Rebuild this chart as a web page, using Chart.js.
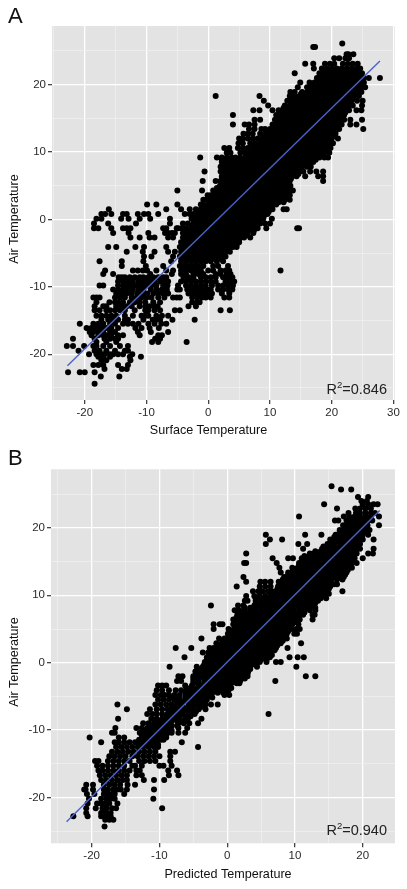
<!DOCTYPE html>
<html>
<head>
  <title>Air Temperature</title>
  <script src="https://cdn.jsdelivr.net/npm/chart.js"></script>
  <style>
    html, body { margin: 0; padding: 0; background: #fff; }
    body { width: 407px; height: 889px; position: relative; overflow: hidden; font-family: "Liberation Sans", Arial, sans-serif; color: #111; }
    canvas { position: absolute; left: 0; }
    .panel { position: absolute; left: 8px; font-size: 22px; line-height: 24px; }
    .r2 { position: absolute; right: 20px; font-size: 14.5px; line-height: 18px; color: #222; }
    .r2 sup { font-size: 9.5px; line-height: 0; }
    .xtitle, .ytitle { position: absolute; font-size: 12.6px; line-height: 15px; white-space: nowrap; }
    .xtitle { transform: translateX(-50%); }
    .ytitle { left: 14px; transform: translate(-50%, -50%) rotate(-90deg); }
  </style>
</head>
<body>

<canvas id="chartA" width="407" height="445" style="top:0"></canvas>
<canvas id="chartB" width="407" height="444" style="top:445px"></canvas>
<div class="panel" style="top:4px">A</div>
<div class="panel" style="top:446px">B</div>
<div class="r2" style="top:380px">R<sup>2</sup>=0.846</div>
<div class="r2" style="top:821px">R<sup>2</sup>=0.940</div>
<div class="xtitle" style="left:208.5px;top:423px">Surface Temperature</div>
<div class="xtitle" style="left:228px;top:866.5px">Predicted Temperature</div>
<div class="ytitle" style="top:219px">Air Temperature</div>
<div class="ytitle" style="top:662px">Air Temperature</div>

<script>
  // air temperature levels and the surface temperatures seen on each level (panel A)
  const airA = [26.1,25.6,24.5,23.9,23.1,22.4,21.7,21,20.3,19.6,18.9,18.3,17.6,16.9,16.2,15.5,14.8,14.1,13.4,12.7,12,11.3,10.6,9.9,9.2,8.5,7.8,7.1,6.4,5.7,5,4.3,3.6,2.9,2.2,1.5,0.8,0.1,-0.6,-1.3,-2,-2.7,-3.4,-4.1,-4.8,-5.5,-6.2,-6.9,-7.6,-8.1,-8.6,-9.2,-9.8,-10.4,-11,-11.6,-12.3,-12.9,-13.5,-14.3,-14.9,-15.5,-16.1,-16.7,-17.2,-17.7,-18.2,-18.8,-19.5,-20,-20.4,-20.9,-21.6,-22.2,-22.7,-23.3,-24.4];
  const surfaceA = [
    [21.7],
    [17,17.3],
    [22.4,23.5,22.7],
    [20.4,21.2,22.2,22.8],
    [15.7,17,18.9,19.7,20.4,21.8,22.6,23.4,24.2],
    [17.1,18.4,19.2,20,20.8,21.6,22.4,23.2,24,24.6],
    [14,18,18.8,19.6,20.4,21.2,22,22.8,23.6,24.4,24.9],
    [26,27.8,17.6,18.4,19.2,20,20.8,21.6,22.4,23.2,24,24.8,25.2],
    [14.9,16.4,17.2,18,18.8,19.6,20.4,21.2,22,22.8,23.6,24.4,25.2],
    [14.5,16,16.8,17.6,18.4,19.2,20,20.8,21.6,22.4,23.2,24,24.8,25.4],
    [13.3,14,15.2,16,16.8,17.6,18.4,19.2,20,20.8,21.6,22.4,23.2,24,24.8],
    [1.2,8.3,13.2,14,14.8,15.6,16.4,17.2,18,18.8,19.6,20.4,21.2,22,22.8,23.6,24.4],
    [9,12.8,13.6,14.4,15.2,16,16.8,17.6,18.4,19.2,20,20.8,21.6,22.4,23.2,24.1,25],
    [9.7,12.4,13.2,14,14.8,15.6,16.4,17.2,18,18.8,19.6,20.4,21.2,22,22.8,23.4,24.9],
    [7.3,8.3,10.4,11.4,12,12.8,13.6,14.4,15.2,16,16.8,17.6,18.4,19.2,20,20.8,21.6,22.4,22.8,24,24.8],
    [4,11,11.6,12.4,13.2,14,14.8,15.6,16.4,17.2,18,18.8,19.6,20.4,21.2,22],
    [7.5,8.4,10.8,11.6,12.4,13.2,14,14.8,15.6,16.4,17.2,18,18.8,19.6,20.4,21.2,22,23,24.9],
    [4,5.9,6.6,7.5,10.4,11.2,12,12.8,13.6,14.4,15.2,16,16.8,17.6,18.4,19.2,20,20.8,21.6,23,24],
    [6.6,7.5,8.6,9.2,10,10.8,11.6,12.4,13.2,14,14.8,15.6,16.4,17.2,18,18.8,19.6,20.4,21.2,25.1],
    [5.7,6.4,7.2,8.4,9.2,10,10.8,11.6,12.4,13.2,14,14.8,15.6,16.4,17.2,18,18.8,19.6,20.6],
    [5,5.6,6.4,7.2,8,8.8,9.6,10.4,11.2,12,12.8,13.6,14.4,15.2,16,16.8,17.6,18.4,19.2,20,21],
    [4.9,5.6,6.8,7.6,8.4,9.2,10,10.8,11.6,12.4,13.2,14,14.8,15.6,16.4,17.2,18,18.8,19.6,20.2],
    [2.6,3.4,4.8,5.6,6.4,7.2,8,8.8,9.6,10.4,11.2,12,12.8,13.6,14.4,15.2,16,16.8,17.6,18.4,19.2,19.8],
    [3,3.6,5.2,6,6.8,7.6,8.4,9.2,10,10.8,11.6,12.4,13.2,14,14.8,15.6,16.4,17.2,18,18.8,19.6],
    [-1.3,1.4,2.2,3,3.8,4.4,5.2,6,6.8,7.6,8.4,9.2,10,10.8,11.6,12.4,13.2,14,14.8,15.6,16.4,17.2,18,18.8,19.4],
    [2.2,2.8,3.6,4.4,5.2,6,6.8,7.6,8.4,9.2,10,10.8,11.6,12.4,13.2,14,14.8,15.6,16.4,17],
    [2,2.4,3.2,4,4.8,5.6,6.4,7.2,8,8.8,9.6,10.4,11.2,12,12.8,13.6,14.4,15.2,16,16.6],
    [-0.6,2,2.8,3.6,4.4,5.2,6,6.8,7.6,8.4,9.2,10,10.8,11.6,12.4,13.2,14,14.8,15.4,16.5,17.5,18.6],
    [2.2,2.8,3.2,4,4.8,5.6,6.4,7.2,8,8.8,9.6,10.4,11.2,12,12.8,13.6,14.3,15.7,17.8,18.6],
    [-0.9,1.2,2,2.8,3.6,4.4,5.2,6,6.8,7.6,8.4,9.2,10,10.8,11.6,12.4,13.2,18.6],
    [1.9,2.4,3.2,4,4.8,5.6,6.4,7.2,8,8.8,9.6,10.4,11.2,12,12.8,13.3],
    [-5,-1,0.8,1.2,2,2.8,3.6,4.4,5.2,6,6.8,7.6,8.4,9.2,10,10.8,11.6,12.4,13.2,13.7],
    [-0.1,0.4,1.2,2,2.8,3.6,4.4,5.2,6,6.8,7.6,8.4,9.2,10,10.8,11.6,12.4,13.2],
    [-0.8,-0.3,0.4,1.2,2,2.8,3.6,4.4,5.2,6,6.8,7.6,8.4,9.2,10,10.8,11.6,12.4,13.2],
    [-9.9,-8.4,-5,-1.2,-0.8,0,0.8,1.6,2.4,3.2,4,4.8,5.6,6.4,7.2,8,8.8,9.6,10.4,11],
    [-16.1,-6.8,-4.4,-3,-2,-1.2,-0.4,0.4,1.2,2,2.8,3.6,4.4,5.2,6,6.8,7.6,8.4,9.2,10,10.4,12.2,12.7],
    [-17.3,-16.7,-15.7,-13.8,-13.2,-11.4,-10.4,-9.7,-8.1,-3.8,-3,-2.4,-1.6,-0.8,0,0.8,1.6,2.4,3.2,4,4.8,5.6,6.4,7.2,8,8.8,9.6],
    [-18.1,-17.3,-14.1,-12.9,-11.1,-9.4,-6.2,-2.7,-2,-1.2,-0.4,0.4,1.2,2,2.8,3.6,4.4,5.2,6,6.8,7.6,8.4,8.9,10.3],
    [-18.5,-16.2,-11.7,-6.2,-4.1,-3.3,-2.4,-1.6,-0.8,0,0.8,1.6,2.4,3.2,4,4.8,5.6,6.4,7.2,8,8.4,9.2,10],
    [-18.5,-17.8,-15.7,-13.8,-13.2,-12.6,-7.3,-6.8,-5.1,-4.9,-4.3,-3.6,-2.8,-2,-1.2,-0.4,0.4,1.2,2,2.8,3.6,4.4,5.2,6,6.8,7.6,8,9.4,14.4,14.7],
    [-15.4,-12.9,-9.7,-7,-6.5,-5.9,-5.4,-4.1,-4,-3.2,-2.4,-1.6,-0.8,0,0.8,1.6,2.4,3.2,4,4.8,5.6,6.4,7.3],
    [-12.6,-11.1,-9.5,-8.7,-6.5,-5.7,-4.1,-3.6,-2.8,-2,-1.2,-0.4,0.4,1.2,2,2.8,3.6,4.4,5.2,5.8,6.8],
    [-4.4,-3.6,-2.8,-2,-1.2,-0.4,0.4,1.2,2,2.8,3.6,4.4,5],
    [-16.2,-14.9,-11.8,-10.4,-6.8,-4.6,-4,-3.2,-2.4,-1.6,-0.8,0,0.8,1.6,2.4,3.2,4,4.6],
    [-13.2,-10.6,-8.7,-6.5,-5.4,-4.4,-3.6,-2.8,-2,-1.2,-0.4,0.4,1.2,2,2.8,3.5],
    [-10.4,-9.2,-5.7,-4.6,-4,-3.2,-2.4,-1.6,-0.8,0,0.8,1.6,2.4,2.8],
    [-17.6,-14,-10.5,-6,-4.4,-3.6,-2.8,-2,-1.2,-0.4,0.4,1.4,2.4],
    [-14,-10.1,-7.3,-4.6,-4,-3.2,-2.4,-1.6,-0.8,0.8,1.6,3.2],
    [-16.7,-12.2,-11.4,-10.6,-9.9,-8.4,-6.8,-5.7,-4.4,-3.6,-2.8,-2,-1.2,0,0.8,2,2.8,3.4,11.7],
    [-17,-15.4,-9.4,-5.9,-4.4,-3.6,-2.4,-1.6,-0.8,1.2,2,3,3.6],
    [-14.5,-14,-13.5,-12.7,-11.9,-11.1,-10.5,-9.7,-8.9,-8.1,-7.3,-6.8,-4,-3.2,-2.4,-1.2,-0.4,0.4,1.2,2.4,3.2,3.9],
    [-14.6,-13.8,-13,-12.2,-11.3,-10.5,-10,-9.5,-8.7,-7.8,-7,-6.5,-4.4,-3.6,-2.8,-2,-1.2,-0.4,0.4,1.2,2.8,3.6,4.2],
    [-17.6,-17,-14.6,-13.8,-13.2,-12.4,-11.6,-10.8,-10,-9.2,-8.4,-7.3,-6.6,-4.9,-3.6,-2.8,-2,-1.2,-0.4,0.6,1.6,2.4,3.2,4],
    [-15.4,-14.6,-13.8,-13,-12.2,-11.3,-10.5,-9.3,-8.4,-7.5,-6.7,-5,-4.6,-3.4,-2.6,-1.8,-1,-0.2,0.4,1.6,2.4,3.2,3.9],
    [-14.9,-14,-13.2,-12.4,-11.5,-10.6,-9.9,-8.9,-8.1,-7.3,-6.5,-3.2,-2.4,-1.6,-0.8,0,0.6,2.2,3.4],
    [-18.6,-18.1,-17.6,-15.1,-14.3,-13.5,-12.4,-11.6,-10.8,-10,-9.2,-8.1,-7.1,-5.7,-5.1,-4.6,-2.6,-1.8,-1,-0.4,0.4,2.6,3.4],
    [-18.1,-16,-15.1,-14.6,-13.8,-12.7,-11.9,-11.1,-10.2,-8.9,-7.8,-2.6,-1.8,-1.4],
    [-18.4,-17,-16.5,-14.9,-14,-13.2,-12.4,-11.1,-10.2,-9.5,-8.7,-8.2,-2,-3.2],
    [-18.4,-17.6,-16.5,-15.9,-15.1,-14.3,-13.5,-11.9,-10.2,-9.7,-8.7,-7.8,-5.4,-4.6,2,3.5],
    [-18.1,-17.3,-16.5,-15.7,-14.9,-13.5,-12.2,-10.8,-10.2,-9.7,-8.4,-7.5,-6.5],
    [-17.3,-16.2,-15.4,-14.6,-13.5,-13,-10.5,-9,-8.4,-7.8,-5.8,-2.2],
    [-20.8,-18.6,-17.8,-17,-15.9,-15.1,-13.8,-13,-12.2,-11.3,-9.7,-8.7,-7.6,-6.8],
    [-19.7,-18.9,-18.1,-17.3,-16.5,-15.7,-14.6,-11.8,-10.8,-9.5,-8],
    [-19.2,-18.6,-17.8,-17,-15.9,-15.1,-11.4,-9.3,-6.5],
    [-18.9,-17.8,-17,-16.5,-15.7,-14.6,-13.8,-11.1,-8.1,-7.5],
    [-21.9,-18.4,-16.8,-15.9,-15.1,-14.6,-8.6,-7.8],
    [-18.1,-16.5,-14.9,-9.1,-8.1,-3.5],
    [-22.9,-21.9,-20.1,-18.6,-18.1,-17,-15.9,-14.3,-13],
    [-21,-18.4,-17.6,-16.5,-15.1,-13.5,-13],
    [-19.3,-18.1,-17.3,-16.8,-15.9,-15.4,-14.6,-13.8,-12.3],
    [-17.8,-17,-15.9,-10.9,-12.7],
    [-17.3,-16.5,-12.6],
    [-18.6,-17.8,-17,-14.6,-13],
    [-16.8,-14,-13.2],
    [-22.7,-20.8,-20,-18.4],
    [-17.4,-14.4],
    [-18.4]
  ];

  // solid core of the cloud in panel A, levels between the ones above
  const coreAirA = [22.05,21.35,20.65,19.95,19.25,18.6,17.95,17.25,16.55,15.85,15.15,14.45,13.75,13.05,12.35,11.65,10.95,10.25,9.55,8.85,8.15,7.45,6.75,6.05,5.35,4.65,3.95,3.25,2.55,1.85,1.15,0.45,-0.25,-0.95,-1.65,-2.35,-3.05,-3.75,-4.45,-5.15,-5.85];
  const coreSurfaceA = [
    [18.6,19.4,20.2,21,21.8,22.6,23.4,24.2],
    [18.2,19,19.8,20.6,21.4,22.2,23,23.8,24.6],
    [17.8,18.6,19.4,20.2,21,21.8,22.6,23.4,24.2,25],
    [16.6,17.4,18.2,19,19.8,20.6,21.4,22.2,23,23.8,24.6],
    [16.2,17,17.8,18.6,19.4,20.2,21,21.8,22.6,23.4,24.2],
    [15,15.8,16.6,17.4,18.2,19,19.8,20.6,21.4,22.2,23,23.8],
    [13.8,14.6,15.4,16.2,17,17.8,18.6,19.4,20.2,21,21.8,22.6,23.4],
    [13.4,14.2,15,15.8,16.6,17.4,18.2,19,19.8,20.6,21.4,22.2,23],
    [12.2,13,13.8,14.6,15.4,16.2,17,17.8,18.6,19.4,20.2,21,21.8,22.6],
    [11.8,12.6,13.4,14.2,15,15.8,16.6,17.4,18.2,19,19.8,20.6,21.4,22.2],
    [11.4,12.2,13,13.8,14.6,15.4,16.2,17,17.8,18.6,19.4,20.2,21,21.8],
    [11,11.8,12.6,13.4,14.2,15,15.8,16.6,17.4,18.2,19,19.8,20.6,21.4],
    [10.6,11.4,12.2,13,13.8,14.6,15.4,16.2,17,17.8,18.6,19.4,20.2,21],
    [9.4,10.2,11,11.8,12.6,13.4,14.2,15,15.8,16.6,17.4,18.2,19,19.8,20.6],
    [9,9.8,10.6,11.4,12.2,13,13.8,14.6,15.4,16.2,17,17.8,18.6,19.4,20.2],
    [8.6,9.4,10.2,11,11.8,12.6,13.4,14.2,15,15.8,16.6,17.4,18.2,19,19.8],
    [7.4,8.2,9,9.8,10.6,11.4,12.2,13,13.8,14.6,15.4,16.2,17,17.8,18.6,19.4],
    [7,7.8,8.6,9.4,10.2,11,11.8,12.6,13.4,14.2,15,15.8,16.6,17.4,18.2,19],
    [6.6,7.4,8.2,9,9.8,10.6,11.4,12.2,13,13.8,14.6,15.4,16.2,17,17.8,18.6],
    [2.2,3,4.6,5.4,6.2,7,7.8,8.6,9.4,10.2,11,11.8,12.6,13.4,14.2,15,15.8,16.6,17.4],
    [2.6,3.4,4.2,5,5.8,6.6,7.4,8.2,9,9.8,10.6,11.4,12.2,13,13.8,14.6,15.4],
    [2.2,3,3.8,4.6,5.4,6.2,7,7.8,8.6,9.4,10.2,11,11.8,12.6,13.4,14.2,15],
    [2.6,3.4,4.2,5,5.8,6.6,7.4,8.2,9,9.8,10.6,11.4,12.2,13,13.8,14.6],
    [2.2,3,3.8,4.6,5.4,6.2,7,7.8,8.6,9.4,10.2,11,11.8,12.6,13.4],
    [2.6,3.4,4.2,5,5.8,6.6,7.4,8.2,9,9.8,10.6,11.4,12.2,13],
    [1.4,2.2,3,3.8,4.6,5.4,6.2,7,7.8,8.6,9.4,10.2,11,11.8,12.6],
    [1,1.8,2.6,3.4,4.2,5,5.8,6.6,7.4,8.2,9,9.8,10.6,11.4,12.2,13],
    [0.6,1.4,2.2,3,3.8,4.6,5.4,6.2,7,7.8,8.6,9.4,10.2,11,11.8,12.6],
    [0.2,1,1.8,2.6,3.4,4.2,5,5.8,6.6,7.4,8.2,9,9.8,10.6,11.4,12.2],
    [-1,-0.2,0.6,1.4,2.2,3,3.8,4.6,5.4,6.2,7,7.8,8.6,9.4,10.2],
    [-1.4,-0.6,0.2,1,1.8,2.6,3.4,4.2,5,5.8,6.6,7.4,8.2,9,9.8],
    [-1.8,-1,-0.2,0.6,1.4,2.2,3,3.8,4.6,5.4,6.2,7,7.8,8.6,9],
    [-2.2,-1.4,-0.6,0.2,1,1.8,2.6,3.4,4.2,5,5.8,6.6,7.4,8.2],
    [-2.6,-1.8,-1,-0.2,0.6,1.4,2.2,3,3.8,4.6,5.4,6.2,7,7.8],
    [-3,-2.2,-1.4,-0.6,0.2,1,1.8,2.6,3.4,4.2,5,5.8,6.6,7.4],
    [-3.4,-2.6,-1.8,-1,-0.2,0.6,1.4,2.2,3,3.8,4.6,5.4,6.2],
    [-3.8,-3,-2.2,-1.4,-0.6,0.2,1,1.8,2.6,3.4,4.2,5],
    [-4.2,-3.4,-2.6,-1.8,-1,-0.2,0.6,1.4,2.2,3,3.8,4.6],
    [-3.8,-3,-2.2,-1.4,-0.6,0.2,1,1.8,2.6,3.4],
    [-4.2,-3.4,-2.6,-1.8,-1,-0.2,0.6,1.4,2.2],
    [-3.8,-3,-2.2,-1.4,-0.6,0.2,1,1.8]
  ];

  // same for panel B, predicted temperature on x
  const airB = [26.2,25.7,24.6,24,23.5,22.9,22.2,21.7,21.1,20.4,19.7,19,18.3,17.6,16.9,16.2,15.5,14.8,14.1,13.4,12.7,12,11.3,10.6,9.9,9.2,8.5,7.8,7.1,6.4,5.7,5,4.3,3.6,2.9,2.2,1.5,0.8,0.1,-0.6,-1.3,-2,-2.7,-3.4,-4.1,-4.8,-5.5,-6.2,-6.9,-7.6,-8.3,-9,-9.7,-10.4,-11.1,-11.8,-12.5,-13.2,-13.9,-14.6,-15.3,-16,-16.7,-17.4,-18.1,-18.8,-19.5,-20.2,-20.9,-21.6,-22.3,-22.8,-23.3,-24.3];
  const predictedB = [
    [15.4],
    [16.8,18.3],
    [19.3,20.8],
    [19.8,20.6],
    [14.3,20,20.8,21.6,22.2],
    [16.2,18.9,19.6,20.4,21.2],
    [17.9,19,19.6,20.4,21.2,21.8],
    [10.6,17.2,18,18.8,19.6,20.4,21.2,22.4],
    [15.9,16.4,17.6,18.4,19.2,20,20.8,21.4],
    [17.1,17.6,18.4,19.2,20,20.7,22.4],
    [16.6,17.2,18,18.8,19.6,20.4,21],
    [5.7,11.5,13.9,16,16.8,17.6,18.4,19.2,20,20.8],
    [6.3,8.1,15.2,16,16.8,17.6,18.4,19.2,20,21.6],
    [5.7,10.5,11.8,14.8,15.6,16.4,17.2,18,18.8,19.6],
    [11.2,14,14.8,15.6,16.4,17.2,18,18.8,19.6,21.6],
    [2.8,12.2,12.8,13.6,14.4,15.2,16,16.8,17.6,18.4,19.1,20.8,21.5],
    [6.7,9,9.7,11,11.6,12.4,13.2,14,14.8,15.6,16.4,17.2,18,18.8,20],
    [2.5,2.8,7.3,10.6,11.2,12,12.8,13.6,14.4,15.2,16,16.8,17.6,18.4,19.1],
    [7.7,9.6,10.4,11.2,12,12.8,13.6,14.4,15.2,16,16.8,17.6,18.4],
    [7.9,9,9.6,10.4,11.2,12,12.8,13.6,14.4,15.2,16,16.8,17.6],
    [2.4,8.4,9.2,10,10.8,11.6,12.4,13.2,14,14.8,15.6,16.4,17.2],
    [2.8,4.9,5.6,6.4,7.6,8.4,9.2,10,10.8,11.6,12.4,13.2,14,14.8,15.2],
    [1.4,4.8,5.6,6.4,7.5,8,8.8,9.6,10.4,11.2,12,12.8,13.6,14.4,15.2],
    [3.8,4.6,5.2,6,6.6,7.2,8,8.8,9.6,10.4,11.2,12,12.8,13.6,14.4,17],
    [2.8,4,4.8,5.6,6.4,7.2,8,8.8,9.6,10.4,11.2,12,12.8,13.6,14.2],
    [2.6,3,4.2,5,5.6,6.4,7.2,8,8.8,9.6,10.4,11.2,12,12.8,13.4],
    [-2.4,1.6,2.4,4,4.8,5.6,6.4,7.2,8,8.8,9.6,10.4,11.2,12,12.7],
    [1.1,1.8,2.6,3.4,4.2,5,5.8,6.6,7.4,8.2,9,9.8,10.6,11.4,12.2,13],
    [1.5,2.4,3.2,4,4.8,5.6,6.4,7.2,8,8.8,9.6,10.4,11.2,12.6,12.9],
    [0.9,1.6,2.4,3.2,4,4.8,5.6,6.4,7.2,8,8.8,9.6,10.4,10.7,12.6],
    [-2,-1.1,-0.7,0.9,1.6,2.4,3.2,4,4.8,5.6,6.4,7.2,8,8.8,9.6,10.5],
    [-2,0.2,1,1.8,2.6,3.4,4.2,5,5.8,6.6,7.4,8.2,9,9.6,10.2,10.7],
    [0.1,0.8,1.6,2.4,3.2,4,4.8,5.6,6.4,7.2,8,8.8,9.9,10.3],
    [-3.8,-1.2,-0.4,0.4,1.2,2,2.8,3.6,4.4,5.2,6,6.8,7.6,8.4,8.8],
    [-1.6,-0.8,0,0.8,1.6,2.4,3.2,4,4.8,5.6,6.4,7.2,7.9,10.9],
    [-7.6,-5.3,-2.6,-2,-1.2,-0.4,0.4,1.2,2,2.8,3.6,4.4,5.2,6,6.8,7.2,8.9],
    [-3.6,-2.8,-2,-1.2,-0.4,0.4,1.2,2,2.8,3.6,4.4,5.2,6,6.4],
    [-6.3,-3,-2.4,-1.6,-0.8,0,0.8,1.6,2.4,3.2,4,4.8,5.6,6.3,9.2,10.4,11.3],
    [-3.3,-2.8,-2,-1.2,-0.4,0.4,1.2,2,2.8,3.6,4.4,4.8,5.8,7.2,7.9],
    [-8.5,-4.5,-3.6,-2.8,-2,-1.2,-0.4,0.4,1.2,2,2.8,3.3,4.4,10.2],
    [-4.7,-4,-3.2,-2.4,-1.6,-0.8,0,0.8,1.6,2.4,3.1],
    [-7.2,-6.6,-5,-4.4,-3.6,-2.8,-2,-1.2,-0.4,0.4,1.2,2,3,11.6,13],
    [-7.4,-6.8,-5,-4.2,-3.2,-2.4,-1.6,-0.8,0,0.8,1.6,1.9,7.1],
    [-10.2,-9.6,-9,-6.2,-5.2,-4.2,-3.4,-2.6,-1.8,-1,-0.2,0.4],
    [-10.4,-9.6,-8.6,-7.6,-6.8,-5.6,-4.8,-4,-3.2,-2.4,-1.6,-0.8,0.2],
    [-10.6,-9.8,-9.2,-8.6,-7.8,-7,-5.6,-4.8,-4,-3.2,-2.4,0.3,-0.4],
    [-10.2,-9.4,-8.6,-7.8,-7,-6,-5.2,-4.4,-3.6,-3],
    [-16.2,-10.6,-9.8,-9,-8.2,-7.4,-6.8,-5.6,-4.8,-4,-3.2,-2.4,-1.4],
    [-14.8,-11.4,-10.4,-9.6,-8.8,-8,-7.2,-6.2,-5.2,-4.2,-3.2],
    [-11.8,-11,-10.4,-9.6,-8.8,-8,-7.2,-6.6,-5.6,-4.8,6.1],
    [-16.1,-11.2,-10.4,-9.6,-8.8,-8,-7.2,-5.8,-3.8],
    [-12.4,-11.6,-10.8,-10,-9.2,-8.4,-7.2,-6.4,-5.6,-4.3],
    [-16.5,-13.4,-12.6,-11.8,-11,-10.2,-9.4,-8.6,-7.2,-5.9],
    [-17,-16.6,-12.9,-12,-11.2,-10.4,-9.6,-8.8,-8.2,-7.2,-6.2],
    [-20.3,-16,-15.2,-12.2,-11.4,-10.6,-9.8,-9],
    [-18.6,-16.6,-16,-15.2,-14.4,-13.6,-12.8,-12,-11.2,-10.4,-6.7],
    [-16.4,-15.6,-14.8,-14,-13.2,-12.4,-11.6,-10.8,-10.2,-4.3],
    [-17,-16.2,-15.4,-14.6,-13.8,-13,-12.2,-11.4,-10.6,-8.4,-7.7],
    [-17.4,-16.6,-15.8,-15,-14,-13.2,-12.4,-11.6,-10.8,-10,-8.4],
    [-19.5,-19,-17.6,-16.8,-16,-15.2,-14.4,-13,-12.2,-11.4,-10.6,-8.4],
    [-19.2,-18.4,-17.6,-16.8,-16,-15.2,-14,-13.6,-12.6,-10,-9.4,-8.2],
    [-19,-18.4,-17.6,-16.8,-16,-15.2,-14.4,-13.4,-12.9,-8.7,-7.4],
    [-18.8,-18,-17.2,-16.4,-15.6,-14.8,-13.4,-12.6,-8.6,-7.2],
    [-18.6,-17.8,-17,-16.2,-15.4,-14.8,-12.3,-10.8,-9.3],
    [-20.8,-19.8,-18.2,-17.4,-16.6,-15.8,-14.7,-13.6],
    [-21.1,-20.9,-19.8,-18.2,-17.6,-16.8,-16.2,-15.7,-14.8,-10.8],
    [-20.7,-19.6,-18.2,-17.6,-17,-16.6,-15.2],
    [-20.4,-18.6,-17.8,-17.2,-16.6,-10.9],
    [-20.6,-19.2,-18.6,-18,-17.4,-16.2],
    [-20.8,-19.4,-18.4,-17.8,-17,-16.4,-9.6],
    [-20.8,-18.6,-18.2,-17.8,-17.2],
    [-22.7,-20.6,-18.6,-18,-17.2],
    [-18,-17.4,-16.8],
    [-18.1]
  ];

  // solid core of the cloud in panel B
  const coreAirB = [21.4,20.75,20.05,19.35,18.65,17.95,17.25,16.55,15.85,15.15,14.45,13.75,13.05,12.35,11.65,10.95,10.25,9.55,8.85,8.15,7.45,6.75,6.05,5.35,4.65,3.95,3.25,2.55,1.85,1.15,0.45,-0.25,-0.95,-1.65,-2.35,-3.05,-3.75,-4.45,-5.15,-5.85,-6.55,-7.25,-7.95,-8.65,-9.35,-10.05,-10.75,-11.45,-12.15];
  const corePredictedB = [
    [18.6,19.4,20.2,21],
    [17.8,18.6,19.4,20.2,20.6],
    [17.4,18.2,19,19.8,20.6],
    [16.6,17.4,18.2,19,19.8,20.2],
    [15.8,16.6,17.4,18.2,19,19.8],
    [15.4,16.2,17,17.8,18.6,19.4],
    [14.2,15,15.8,16.6,17.4,18.2,19],
    [13,13.8,14.6,15.4,16.2,17,17.8,18.6,19],
    [11.4,12.2,13,13.8,14.6,15.4,16.2,17,17.8,18.6],
    [11,11.8,12.6,13.4,14.2,15,15.8,16.6,17.4,18.2,18.6],
    [10.6,11.4,12.2,13,13.8,14.6,15.4,16.2,17,17.8,18.2],
    [9.8,10.6,11.4,12.2,13,13.8,14.6,15.4,16.2,17,17.8],
    [9,9.8,10.6,11.4,12.2,13,13.8,14.6,15.4,16.2,17,17.4],
    [8.2,9,9.8,10.6,11.4,12.2,13,13.8,14.6,15.4,16.2,17],
    [7.8,8.6,9.4,10.2,11,11.8,12.6,13.4,14.2,15,15.8,16.2],
    [7.4,8.2,9,9.8,10.6,11.4,12.2,13,13.8,14.6,15],
    [6.6,7.4,8.2,9,9.8,10.6,11.4,12.2,13,13.8,14.6,15],
    [4.2,5,5.8,6.6,7.4,8.2,9,9.8,10.6,11.4,12.2,13,13.8,14.6],
    [4.2,5,5.8,6.6,7.4,8.2,9,9.8,10.6,11.4,12.2,13],
    [2.6,3.4,4.2,5,5.8,6.6,7.4,8.2,9,9.8,10.6,11.4,12.2,13],
    [1.8,2.6,3.4,4.2,5,5.8,6.6,7.4,8.2,9,9.8,10.6,11.4],
    [1.4,2.2,3,3.8,4.6,5.4,6.2,7,7.8,8.6,9.4,10.2,10.6],
    [1.4,2.2,3,3.8,4.6,5.4,6.2,7,7.8,8.6,9.4,10.2],
    [1.4,2.2,3,3.8,4.6,5.4,6.2,7,7.8,8.6,9.4],
    [0.6,1.4,2.2,3,3.8,4.6,5.4,6.2,7,7.8,8.6,9],
    [0.2,1,1.8,2.6,3.4,4.2,5,5.8,6.6,7.4,8.2,8.6],
    [-0.6,0.2,1,1.8,2.6,3.4,4.2,5,5.8,6.6,7.4,8.2],
    [-1.4,-0.6,0.2,1,1.8,2.6,3.4,4.2,5,5.8,6.6,7.4],
    [-2.2,-1.4,-0.6,0.2,1,1.8,2.6,3.4,4.2,5,5.8,6.6,7],
    [-2.6,-1.8,-1,-0.2,0.6,1.4,2.2,3,3.8,4.6,5.4,6.2,6.6],
    [-3,-2.2,-1.4,-0.6,0.2,1,1.8,2.6,3.4,4.2,5,5.8],
    [-3.4,-2.6,-1.8,-1,-0.2,0.6,1.4,2.2,3,3.8,4.2],
    [-4.2,-3.4,-2.6,-1.8,-1,-0.2,0.6,1.4,2.2,3,3.4],
    [-4.6,-3.8,-3,-2.2,-1.4,-0.6,0.2,1,1.8,2.6,3],
    [-5,-4.2,-3.4,-2.6,-1.8,-1,-0.2,0.6,1.4,2.2,2.6],
    [-5,-4.2,-3.4,-2.6,-1.8,-1,-0.2,0.6,1.4,1.8],
    [-6,-5.2,-4.4,-3.6,-2.8,-2,-1.2,-0.4,0.6],
    [-6.2,-5.4,-4.6,-3.8,-3,-2.2,-1.4,-0.6,-0.2],
    [-8,-7.2,-6.2,-5.4,-4.6,-3.8,-3,-2.2],
    [-7.4,-6.6,-5.8,-5,-4.2,-3.4],
    [-8.2,-7.4,-6.6,-5.8,-5,-4.2,-3.8],
    [-8.2,-7.4,-6.6,-5.8,-5,-4.6],
    [-9.4,-8.6,-7.8,-7,-6.2,-5.4],
    [-10.6,-9.8,-9,-8.2,-7.4,-6.6,-6.2],
    [-11.4,-10.6,-9.8,-9,-8.2,-7.4],
    [-12.2,-11.4,-10.6,-9.8,-9,-8.2],
    [-12.6,-11.8,-11,-10.2,-9.4,-9],
    [-13,-12.2,-11.4,-10.6,-9.8,-9.4],
    [-13,-12.2,-11.4,-10.6,-10.2]
  ];

  const xTicksA = [-20, -10, 0, 10, 20, 30];
  const xTicksB = [-20, -10, 0, 10, 20];
  const yTicks = [-20, -10, 0, 10, 20];

  // fitted lines, end points only
  const fitSurfaceA = [-22.8, 27.8];
  const fitAirA = [-21.7, 23.5];
  const fitPredictedB = [-23.7, 22.5];
  const fitAirB = [-23.6, 22.6];

  function toPoints(levels, rows) {
    const points = [];
    rows.forEach((row, i) => {
      row.forEach(x => points.push({ x: x, y: levels[i] }));
    });
    return points;
  }

  const greyPanel = {
    id: 'greyPanel',
    beforeDraw(chart) {
      const a = chart.chartArea;
      chart.ctx.fillStyle = '#E3E3E3';
      chart.ctx.fillRect(a.left, a.top, a.width, a.height);
    }
  };

  function makeChart(id, opts) {
    const axisColor = '#2a2a2a';
    const gridLine = ctx => ctx.tick && ctx.tick.value % 10 === 0 ? '#ffffff' : '#f1f1f1';
    const gridWidth = ctx => ctx.tick && ctx.tick.value % 10 === 0 ? 1.3 : 0.7;
    const tickColor = ctx => ctx.tick && ctx.tick.value % 10 === 0 ? '#444' : 'rgba(0,0,0,0)';
    const label = (ticks) => v => ticks.includes(v) ? String(v) : '';

    return new Chart(document.getElementById(id), {
      type: 'scatter',
      plugins: [greyPanel],
      data: {
        datasets: [
          {
            data: [{ x: opts.fitX[0], y: opts.fitY[0] }, { x: opts.fitX[1], y: opts.fitY[1] }],
            showLine: true,
            borderColor: '#4a63c8',
            borderWidth: 1.4,
            pointRadius: 0
          },
          {
            data: opts.points,
            backgroundColor: '#000',
            borderWidth: 0,
            pointRadius: 3
          }
        ]
      },
      options: {
        responsive: false,
        animation: false,
        layout: { padding: { top: opts.top, right: 12, bottom: 0, left: 0 } },
        plugins: { legend: { display: false }, tooltip: { enabled: false } },
        scales: {
          x: {
            min: opts.xMin,
            max: opts.xMax,
            afterFit(scale) { scale.height = opts.xAxisHeight; },
            grid: { color: gridLine, lineWidth: gridWidth, tickColor: tickColor, tickLength: 4 },
            border: { display: false },
            ticks: { stepSize: 5, includeBounds: false, autoSkip: false, maxRotation: 0, padding: 2, color: axisColor, font: { family: 'Liberation Sans', size: 11.5 }, callback: label(opts.xTicks) }
          },
          y: {
            min: -26.8,
            max: 28.7,
            afterFit(scale) { scale.width = opts.left; },
            grid: { color: gridLine, lineWidth: gridWidth, tickColor: tickColor, tickLength: 4 },
            border: { display: false },
            ticks: { stepSize: 5, includeBounds: false, autoSkip: false, padding: 2, color: axisColor, font: { family: 'Liberation Sans', size: 11.5 }, callback: label(yTicks) }
          }
        }
      }
    });
  }

  makeChart('chartA', {
    points: toPoints(airA, surfaceA).concat(toPoints(coreAirA, coreSurfaceA)),
    fitX: fitSurfaceA, fitY: fitAirA,
    xMin: -25.3, xMax: 30.24, xTicks: xTicksA,
    top: 26, left: 52, xAxisHeight: 45
  });

  makeChart('chartB', {
    points: toPoints(airB, predictedB).concat(toPoints(coreAirB, corePredictedB)),
    fitX: fitPredictedB, fitY: fitAirB,
    xMin: -26, xMax: 24.76, xTicks: xTicksB,
    top: 24.3, left: 51, xAxisHeight: 45.7
  });
</script>

</body>
</html>
